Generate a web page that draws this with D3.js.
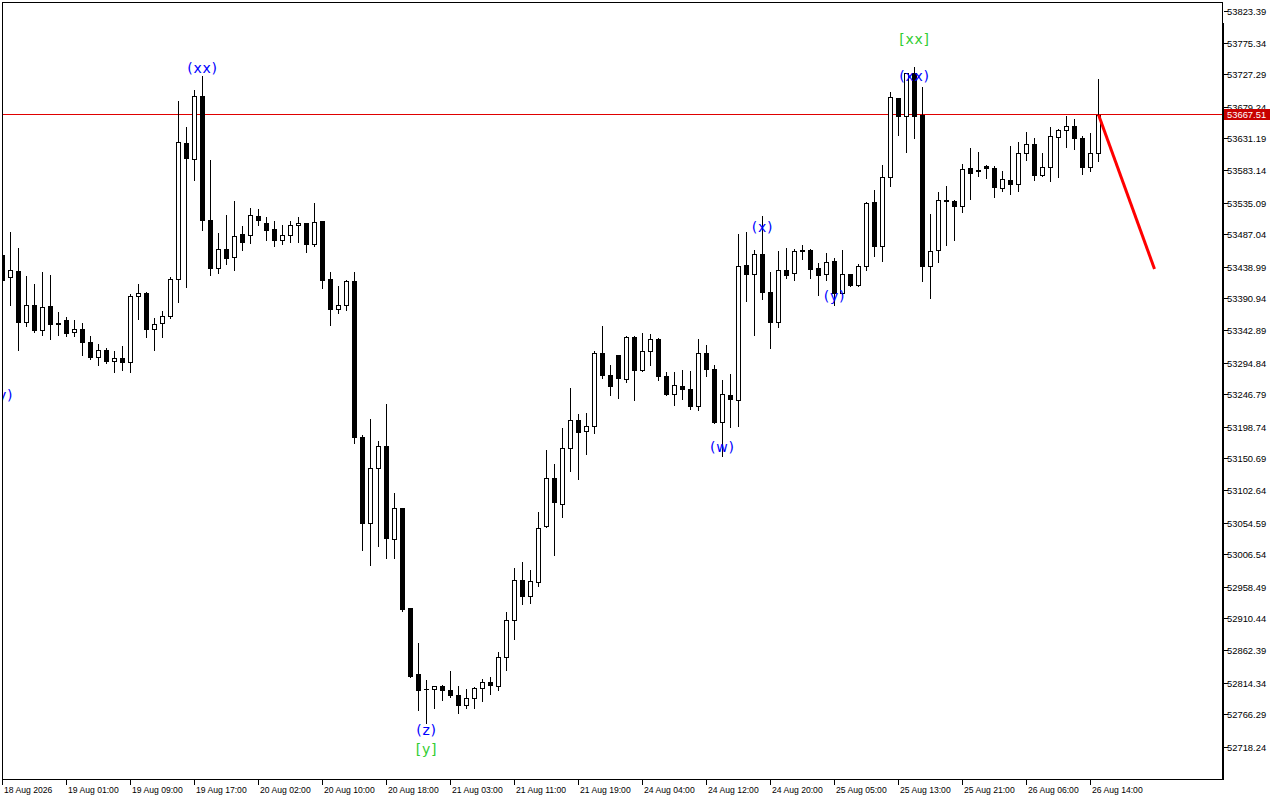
<!DOCTYPE html>
<html>
<head>
<meta charset="utf-8">
<script src="https://cdn.jsdelivr.net/npm/d3@7/dist/d3.min.js"></script>
<style>
  html, body { margin: 0; padding: 0; background: #ffffff; }
  svg { display: block; }
</style>
</head>
<body>
<svg id="chart" width="1280" height="800"></svg>
<script>
// ---------------- DATA (H1 candles, bar index = position) ----------------
const opens = [
53457.5, 53424, 53433.5, 53356.6, 53382.5, 53343.9, 53381, 53355, 53360, 53341.5,
53346.5, 53327, 53304, 53314.5, 53298, 53303, 53296, 53395.5, 53400.5, 53346,
53355, 53365, 53421, 53625, 53601, 53696, 53509.5, 53437, 53466, 53454,
53489, 53487, 53516, 53505, 53496, 53479, 53487, 53502, 53505, 53473,
53508, 53421, 53376, 53382, 53418, 53183, 53055, 53137.5, 53170.5, 53031,
53077.5, 52926.5, 52828.5, 52806, 52806, 52809.5, 52804.5, 52796, 52781.5, 52792.5,
52807.5, 52815.5, 52810.5, 52854, 52909.5, 52969.5, 52945.5, 52966.5, 53050, 53122.5,
53083.5, 53167.5, 53210, 53193, 53200, 53310, 53277.5, 53307.5, 53271, 53334.5,
53284.5, 53313.5, 53331.5, 53276, 53248.5, 53261, 53256, 53230, 53310, 53286.5,
53206.5, 53247.5, 53239, 53442.5, 53428.5, 53459, 53402, 53357, 53434.5, 53430,
53465, 53465, 53437.5, 53428.5, 53448, 53400, 53428.5, 53411.5, 53440.5, 53536.5,
53470, 53574, 53692.5, 53665, 53730, 53667.5, 53440, 53464, 53539.5, 53538.5,
53530, 53588, 53585, 53591, 53588, 53558, 53570, 53563.5, 53610, 53623.5,
53576.5, 53589, 53634, 53644.5, 53651, 53632.5, 53589, 53610
];
const highs = [
53480, 53491.6, 53468, 53424.9, 53414, 53430.9, 53427.5, 53371.5, 53364, 53360,
53355.5, 53336, 53324, 53317.5, 53313.5, 53321, 53399, 53414, 53401.5, 53362.5,
53373.5, 53424, 53688.5, 53648.5, 53705, 53726, 53600, 53490, 53517.5, 53538.5,
53501, 53527.5, 53526.5, 53514, 53508, 53502, 53508, 53514, 53505, 53535,
53508, 53432, 53411, 53420, 53431.5, 53186, 53211, 53177, 53234, 53099,
53077.5, 52927.5, 52874, 52818.5, 52810.5, 52812, 52832, 52810, 52805, 52809,
52820, 52824, 52861, 52921.5, 52987, 52995.5, 52983.5, 53071, 53163.5, 53142.5,
53196.5, 53258, 53219, 53220.5, 53313.5, 53350, 53291.5, 53307.5, 53335, 53335,
53340.5, 53339, 53332, 53282, 53281.5, 53285, 53283.5, 53331.5, 53322.5, 53291.5,
53270, 53279, 53489, 53492, 53465, 53515, 53432, 53462.5, 53467.5, 53466.5,
53472.5, 53466.5, 53445, 53460, 53452.5, 53465, 53428.5, 53444, 53536, 53555,
53591.5, 53701.5, 53693, 53731, 53740, 53710, 53519, 53552, 53561, 53539,
53594, 53618, 53612, 53592, 53590, 53583.5, 53621, 53627, 53642, 53632.5,
53610.5, 53649, 53646.5, 53666, 53661, 53635.5, 53640.5, 53721.5
];
const lows = [
53237, 53381.5, 53315, 53351, 53342, 53337.5, 53331.5, 53337.5, 53335.5, 53335,
53307.5, 53301.5, 53292.5, 53295, 53281, 53285, 53281, 53361.5, 53333.5, 53315,
53333.5, 53363, 53386, 53408.5, 53569, 53494, 53427, 53430, 53443.5, 53434,
53464, 53475, 53501.5, 53480, 53470, 53474, 53476, 53476, 53462, 53471,
53407, 53351.5, 53370, 53375, 53175, 53014, 52991.5, 53020, 53002, 53002,
52922.5, 52824, 52774, 52755, 52777.5, 52789, 52794, 52769, 52776.5, 52777,
52787.5, 52797.5, 52804, 52834, 52880, 52932.5, 52934, 52960, 53048.5, 53006,
53063.5, 53132.5, 53120, 53158, 53189.5, 53272, 53246.5, 53242.5, 53266.5, 53239,
53283.5, 53291.5, 53269, 53246.5, 53232, 53240.5, 53225.5, 53224, 53275, 53205,
53155, 53199, 53200, 53387.5, 53336.5, 53391, 53318, 53349.5, 53422.5, 53419,
53451.5, 53422, 53397.5, 53420, 53382.5, 53399, 53410, 53410, 53435, 53455,
53447.5, 53560, 53637.5, 53611, 53632.5, 53417.5, 53392.5, 53446.5, 53472.5, 53480,
53521, 53540.5, 53575, 53572, 53544, 53552.5, 53549, 53552.5, 53600, 53569,
53575, 53567.5, 53574, 53619, 53616, 53578, 53582.5, 53597.5
];
const closes = [
53420, 53434, 53356, 53382.5, 53343.9, 53379, 53353, 53353, 53339.5, 53346.5,
53326, 53303.5, 53314.5, 53297.5, 53303, 53296, 53395.5, 53400, 53346, 53353.5,
53365.5, 53421, 53627, 53602.5, 53696, 53509, 53437, 53466, 53452, 53486,
53476, 53517, 53509, 53494, 53479, 53487, 53502, 53505, 53473, 53506.5,
53419, 53376, 53382, 53418, 53184, 53055, 53137.5, 53170.5, 53032, 53077.5,
52925, 52825, 52804, 52805, 52810.5, 52804.5, 52797, 52782, 52792.5, 52806.5,
52815.5, 52811.5, 52854, 52909.5, 52969.5, 52945, 52968, 53047.5, 53122.5, 53086,
53167.5, 53210, 53191, 53200.5, 53310, 53276.5, 53260, 53272.5, 53334.5, 53284.5,
53313.5, 53331, 53275, 53248, 53262.5, 53255.5, 53230, 53310, 53285.5, 53206,
53248.5, 53240.5, 53440.5, 53428.5, 53459, 53401, 53357, 53434.5, 53426.5, 53463,
53462.5, 53436, 53426.5, 53446.5, 53400, 53428.5, 53411.5, 53440.5, 53535, 53470,
53574, 53694, 53665, 53730, 53665, 53440, 53462.5, 53539.5, 53537.5, 53530,
53586, 53579.5, 53583, 53587, 53558.5, 53571.5, 53563.5, 53610, 53623.5, 53576.5,
53589, 53635.5, 53644.5, 53650.5, 53632, 53588.5, 53610, 53667.51
];

// time axis labels (one every 8 bars)
const timeLabelBars = [0, 8, 16, 24, 32, 40, 48, 56, 64, 72, 80, 88, 96, 104, 112, 120, 128, 136];
const timeLabels = ["18 Aug 2026", "19 Aug 01:00", "19 Aug 09:00", "19 Aug 17:00", "20 Aug 02:00",
  "20 Aug 10:00", "20 Aug 18:00", "21 Aug 03:00", "21 Aug 11:00", "21 Aug 19:00", "24 Aug 04:00",
  "24 Aug 12:00", "24 Aug 20:00", "25 Aug 05:00", "25 Aug 13:00", "25 Aug 21:00", "26 Aug 06:00",
  "26 Aug 14:00"];

// price axis tick labels
const priceTicks = [53823.39, 53775.34, 53727.29, 53679.24, 53631.19, 53583.14, 53535.09, 53487.04,
  53438.99, 53390.94, 53342.89, 53294.84, 53246.79, 53198.74, 53150.69, 53102.64, 53054.59,
  53006.54, 52958.49, 52910.44, 52862.39, 52814.34, 52766.29, 52718.24];

const currentPrice = 53667.51;

// wave labels
const waveText  = ["(y)", "(xx)", "(z)", "[y]", "(w)", "(x)", "(y)", "(xx)", "[xx]"];
const waveBar   = [0, 25, 53, 53, 90, 95, 104, 114, 114];
const wavePrice = [53247.5, 53738, 52743.5, 52715, 53169.5, 53499.5, 53396, 53726, 53781.5];

// forecast segment
const projBar   = [137, 144];
const projPrice = [53667.51, 53436];

// ---------------- DRAW ----------------
(function () {
const svg = d3.select("#chart");
const pL = 2, pT = 2, pR = 1222, pB = 779;

const x = d3.scaleLinear().domain([0, 1]).range([2.5, 10.5]);
const y = d3.scaleLinear().domain([52718.24, 53823.39]).range([747, 11]);
const px = v => Math.round(v);

svg.append("rect").attr("x", 0).attr("y", 0).attr("width", 1280).attr("height", 800).attr("fill", "#fff");

svg.append("defs").append("clipPath").attr("id", "plotClip")
  .append("rect").attr("x", pL + 1).attr("y", pT + 1)
  .attr("width", pR - pL - 1).attr("height", pB - pT - 1);

const plot = svg.append("g").attr("clip-path", "url(#plotClip)");

// current price line
const cpY = Math.floor(y(currentPrice)) + 0.5;
plot.append("line").attr("x1", pL).attr("x2", pR).attr("y1", cpY).attr("y2", cpY)
  .attr("stroke", "#e00000").attr("stroke-width", 1).attr("shape-rendering", "crispEdges");

// candles
const data = opens.map((o, i) => ({ i, o, h: highs[i], l: lows[i], c: closes[i] }));
const cg = plot.append("g").attr("shape-rendering", "crispEdges");
data.forEach(d => {
  const cx = x(d.i);
  const yh = px(y(d.h)), yl = px(y(d.l));
  const yt = px(y(Math.max(d.o, d.c))), yb = px(y(Math.min(d.o, d.c)));
  cg.append("line").attr("x1", cx).attr("x2", cx).attr("y1", yh).attr("y2", yl + 1)
    .attr("stroke", "#000").attr("stroke-width", 1);
  if (d.c >= d.o) {
    cg.append("rect").attr("x", cx - 2).attr("y", yt + 0.5)
      .attr("width", 4).attr("height", Math.max(1, yb - yt))
      .attr("fill", "#fff").attr("stroke", "#000").attr("stroke-width", 1);
  } else {
    cg.append("rect").attr("x", cx - 2.5).attr("y", yt)
      .attr("width", 5).attr("height", Math.max(1, yb - yt + 1))
      .attr("fill", "#000");
  }
});

// forecast line
plot.append("line")
  .attr("x1", x(projBar[0])).attr("y1", y(projPrice[0]))
  .attr("x2", x(projBar[1])).attr("y2", y(projPrice[1]))
  .attr("stroke", "#ff0000").attr("stroke-width", 3);

// wave labels
waveText.forEach((t, k) => {
  plot.append("text")
    .attr("x", x(waveBar[k])).attr("y", y(wavePrice[k]))
    .attr("dy", "0.36em").attr("text-anchor", "middle")
    .attr("font-family", "'DejaVu Sans', sans-serif").attr("font-size", 14)
    .attr("letter-spacing", "0.8px")
    .attr("fill", t.startsWith("[") ? "#32cd32" : "#0000ff")
    .text(t);
});

// frame
const frame = svg.append("g").attr("stroke", "#000").attr("shape-rendering", "crispEdges");
frame.append("line").attr("x1", pL).attr("x2", pR + 1).attr("y1", pT + 0.5).attr("y2", pT + 0.5);
frame.append("line").attr("x1", pL + 0.5).attr("x2", pL + 0.5).attr("y1", pT).attr("y2", pB + 1);
frame.append("line").attr("x1", pL).attr("x2", pR + 2).attr("y1", pB + 0.5).attr("y2", pB + 0.5);
frame.append("line").attr("x1", pR + 0.5).attr("x2", pR + 0.5).attr("y1", pT).attr("y2", pB + 1);
frame.append("line").attr("x1", pR + 1.5).attr("x2", pR + 1.5).attr("y1", 23).attr("y2", pB + 1);

// price axis
const ay = svg.append("g");
priceTicks.forEach(v => {
  const yy = Math.floor(y(v)) + 0.5;
  ay.append("line").attr("x1", pR + 2).attr("x2", pR + 6).attr("y1", yy).attr("y2", yy)
    .attr("stroke", "#000").attr("shape-rendering", "crispEdges");
  ay.append("text").attr("x", pR + 5).attr("y", yy).attr("dy", "0.35em")
    .attr("font-family", "'Liberation Sans', Arial, sans-serif").attr("font-size", 9.4)
    .attr("fill", "#000").text(v.toFixed(2));
});

// current price tag
ay.append("rect").attr("x", pR + 2).attr("y", cpY - 5.5).attr("width", 46).attr("height", 11)
  .attr("fill", "#c80000");
ay.append("text").attr("x", pR + 5).attr("y", cpY).attr("dy", "0.35em")
  .attr("font-family", "'Liberation Sans', Arial, sans-serif").attr("font-size", 9.4)
  .attr("fill", "#fff").text(currentPrice.toFixed(2));

// time axis
const ax = svg.append("g");
timeLabelBars.forEach((b, k) => {
  const xx = Math.floor(x(b)) + 0.5;
  ax.append("line").attr("x1", xx).attr("x2", xx).attr("y1", pB).attr("y2", pB + 6)
    .attr("stroke", "#000").attr("shape-rendering", "crispEdges");
  ax.append("text").attr("x", xx + 1.5).attr("y", pB + 14)
    .attr("font-family", "'Liberation Sans', Arial, sans-serif").attr("font-size", 8.6)
    .attr("fill", "#000").text(timeLabels[k]);
});
})();
</script>
</body>
</html>
